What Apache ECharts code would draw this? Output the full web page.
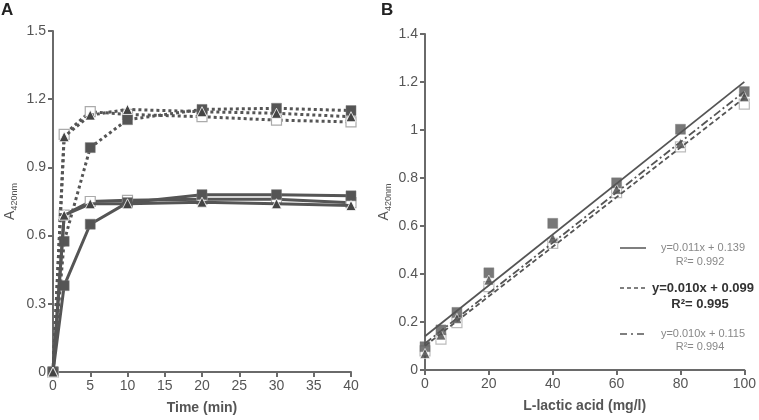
<!DOCTYPE html>
<html><head><meta charset="utf-8">
<script src="https://cdn.jsdelivr.net/npm/echarts@6/dist/echarts.min.js"></script>
<style>html,body{margin:0;padding:0;background:#fff}#c{width:759px;height:420px}</style>
</head><body><div id="c"></div>
<script>
// Panel A: time course
const timeA = [0, 1.5, 5, 10, 20, 30, 40];
const solidFilledSq = [0, 0.38, 0.65, 0.745, 0.78, 0.78, 0.775];
const solidOpenSq   = [0, 0.69, 0.75, 0.755, 0.76, 0.76, 0.745];
const solidTri      = [0, 0.69, 0.74, 0.74, 0.747, 0.74, 0.732];
const dotFilledSq   = [0, 0.575, 0.987, 1.11, 1.155, 1.16, 1.15];
const dotOpenSq     = [0, 1.045, 1.145, 1.133, 1.123, 1.108, 1.10];
const dotTri        = [0, 1.035, 1.13, 1.155, 1.145, 1.138, 1.123];
// Panel B: calibration
const concB = [0, 5, 10, 20, 40, 60, 80, 100];
const calFilledSq = [0.097, 0.167, 0.24, 0.405, 0.611, 0.78, 1.003, 1.16];
const calOpenSq   = [0.08, 0.129, 0.197, 0.347, 0.528, 0.739, 0.93, 1.108];
const calTri      = [0.069, 0.146, 0.215, 0.375, 0.549, 0.753, 0.944, 1.139];
const legendLabels = [
  ['y=0.011x + 0.139', 'R²= 0.992'],
  ['y=0.010x + 0.099', 'R²= 0.995'],
  ['y=0.010x + 0.115', 'R²= 0.994']
];

function fit(xs, ys) {
  const n = xs.length;
  const mx = xs.reduce((a, b) => a + b, 0) / n;
  const my = ys.reduce((a, b) => a + b, 0) / n;
  let sxy = 0, sxx = 0;
  for (let i = 0; i < n; i++) { sxy += (xs[i] - mx) * (ys[i] - my); sxx += (xs[i] - mx) ** 2; }
  const m = sxy / sxx, b = my - m * mx;
  const x0 = xs[0], x1 = xs[n - 1];
  return [[x0, m * x0 + b], [x1, m * x1 + b]];
}
const pairs = (xs, ys) => xs.map((x, i) => [x, ys[i]]);

const DARK = '#555555';
const FONT = 'Liberation Sans';
const filledSq = { symbol: 'rect', symbolSize: 10, itemStyle: { color: DARK, borderColor: '#777', borderWidth: 0.5 } };
const openSq = { symbol: 'rect', symbolSize: 10, itemStyle: { color: '#ffffff', borderColor: '#aaaaaa', borderWidth: 1.2 } };
const tri = { symbol: 'triangle', symbolSize: 10, itemStyle: { color: '#444444', borderColor: '#ffffff', borderWidth: 0.8 } };

function lineSer(data, mk, type, z) {
  return Object.assign({
    type: 'line', xAxisIndex: 0, yAxisIndex: 0, data: pairs(timeA, data), z: z,
    lineStyle: { color: DARK, width: 3, type: type }, animation: false
  }, JSON.parse(JSON.stringify(mk)));
}
function scat(data, mk, z) {
  return Object.assign({ type: 'scatter', xAxisIndex: 1, yAxisIndex: 1, data: pairs(concB, data), z: z, animation: false },
    JSON.parse(JSON.stringify(mk)));
}
function trend(data, type, z) {
  return { type: 'line', xAxisIndex: 1, yAxisIndex: 1, data: fit(concB, data), symbol: 'none', z: z,
    lineStyle: { color: DARK, width: 1.8, type: type }, animation: false };
}

const axisCommon = {
  axisLine: { show: true, lineStyle: { color: '#6a6a6a', width: 2 } },
  axisTick: { show: true, inside: false, length: 5, lineStyle: { color: '#6a6a6a', width: 2 } },
  splitLine: { show: false },
  axisLabel: { color: '#555', fontFamily: FONT, fontSize: 14, margin: 7 }
};
const yName = {
  name: '{a|A}{s|420nm}', nameLocation: 'middle', nameRotate: 90,
  nameTextStyle: { rich: { a: { fontFamily: FONT, fontSize: 14, color: '#555', verticalAlign: 'bottom', lineHeight: 15 },
    s: { fontFamily: FONT, fontSize: 9, color: '#555', verticalAlign: 'bottom', lineHeight: 10, padding: [0, 0, -2, 0] } } }
};

const legendG = [];
const lx0 = 620, lx1 = 646;
const ly = [248, 288, 334];
const rly = [262, 304, 347];
const ltypes = [[], [4, 3], [7, 4, 2, 4]];
for (let i = 0; i < 3; i++) {
  legendG.push({ type: 'line', shape: { x1: lx0, y1: ly[i], x2: lx1, y2: ly[i] },
    style: { stroke: DARK, lineWidth: 1.5, lineDash: ltypes[i].length ? ltypes[i] : null } });
  const bold = i === 1;
  legendG.push({ type: 'text', x: 703, y: ly[i], style: { text: legendLabels[i][0], align: 'center', verticalAlign: 'middle',
    font: (bold ? 'bold 13px ' : '11px ') + FONT, fill: bold ? '#333' : '#888' } });
  legendG.push({ type: 'text', x: 700, y: rly[i], style: { text: legendLabels[i][1], align: 'center', verticalAlign: 'middle',
    font: (bold ? 'bold 13px ' : '11px ') + FONT, fill: bold ? '#333' : '#888' } });
}
legendG.push({ type: 'text', x: 1, y: 2, style: { text: 'A', font: 'bold 17px ' + FONT, fill: '#222' } });
legendG.push({ type: 'text', x: 381, y: 2, style: { text: 'B', font: 'bold 17px ' + FONT, fill: '#222' } });

const option = {
  backgroundColor: '#fff',
  animation: false,
  grid: [
    { left: 53, right: 408, top: 31, bottom: 47 },
    { left: 425, right: 12, top: 34, bottom: 50 }
  ],
  xAxis: [
    Object.assign({ gridIndex: 0, type: 'value', min: 0, max: 40, interval: 5, name: 'Time (min)', nameLocation: 'middle', nameGap: 29,
      nameTextStyle: { fontFamily: FONT, fontSize: 14, fontWeight: 'bold', color: '#555' } }, JSON.parse(JSON.stringify(axisCommon))),
    Object.assign({ gridIndex: 1, type: 'value', min: 0, max: 100, interval: 20, name: 'L-lactic acid (mg/l)', nameLocation: 'middle', nameGap: 29,
      nameTextStyle: { fontFamily: FONT, fontSize: 14, fontWeight: 'bold', color: '#555' } }, JSON.parse(JSON.stringify(axisCommon)))
  ],
  yAxis: [
    Object.assign({ gridIndex: 0, type: 'value', min: 0, max: 1.5, interval: 0.3, nameGap: 36 }, JSON.parse(JSON.stringify(axisCommon)), JSON.parse(JSON.stringify(yName))),
    Object.assign({ gridIndex: 1, type: 'value', min: 0, max: 1.4, interval: 0.2, nameGap: 34 }, JSON.parse(JSON.stringify(axisCommon)), JSON.parse(JSON.stringify(yName)))
  ],
  series: [
    lineSer(dotOpenSq, openSq, 'dotted', 3),
    lineSer(dotFilledSq, filledSq, 'dotted', 4),
    lineSer(dotTri, tri, 'dotted', 5),
    lineSer(solidOpenSq, openSq, 'solid', 3),
    lineSer(solidFilledSq, filledSq, 'solid', 4),
    lineSer(solidTri, tri, 'solid', 5),
    scat(calOpenSq, openSq, 3),
    scat(calFilledSq, filledSq, 4),
    scat(calTri, tri, 5),
    trend(calFilledSq, 'solid', 6),
    trend(calOpenSq, [5, 3], 6),
    trend(calTri, [8, 3, 2, 3], 6)
  ],
  graphic: legendG
};
const chart = echarts.init(document.getElementById('c'));
chart.setOption(option);
</script></body></html>
